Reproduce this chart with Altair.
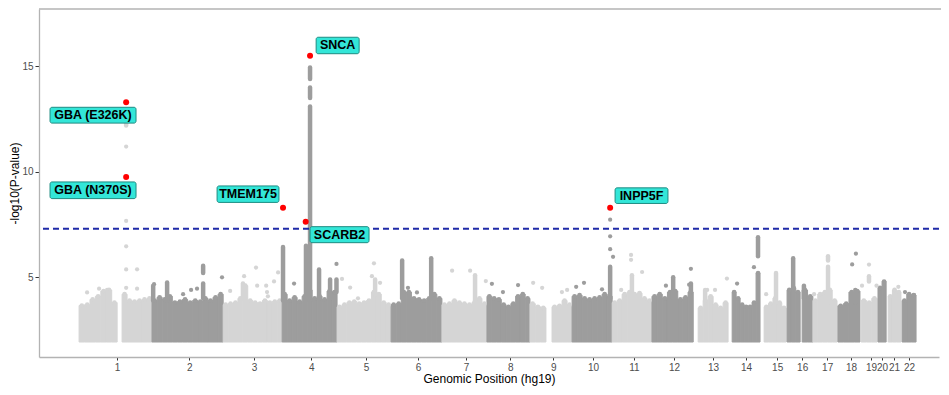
import altair as alt
import pandas as pd

# ---------------- data ----------------
chrom_names = [str(i) for i in range(1, 23)]
# tick (label) positions along the cumulative genomic axis (approx. Mb)
tick_pos = [131, 379, 602, 799, 988, 1167, 1332, 1484, 1632, 1769, 1910,
            2048, 2182, 2296, 2403, 2489, 2575, 2657, 2726, 2764, 2805, 2857]

# dense SNP cloud: chromosome arm segments and the cloud top in equal bins
dense_bottom = 1.93
seg_chr = [1, 1, 2, 3, 4, 5, 6, 7, 8, 9, 9, 10, 11, 12, 13, 14, 15, 16, 16,
           17, 18, 19, 20, 21, 22]
seg_start = [0, 148, 251, 496, 699, 888, 1074, 1249, 1404, 1552, 1628, 1697,
             1835, 1972, 2131, 2248, 2358, 2437, 2489, 2526, 2612, 2692, 2750,
             2785, 2833]
seg_end = [131, 251, 496, 699, 888, 1074, 1249, 1404, 1552, 1607, 1697, 1835,
           1972, 2114, 2234, 2344, 2434, 2482, 2526, 2609, 2688, 2747, 2778,
           2829, 2881]
seg_tops = [
    [3.66, 3.7, 3.95, 4.1, 4.35, 4.4, 3.8],
    [4.2, 3.9, 3.85, 3.9, 3.95, 4.0],
    [3.9, 4.05, 3.95, 4.1, 3.8, 3.85, 3.95, 3.8, 3.9, 3.85, 4.0, 3.9, 4.05, 4.2],
    [3.7, 3.75, 3.8, 4.0, 4.6, 3.9, 3.8, 3.75, 3.9, 3.8, 3.85, 3.9],
    [4.2, 3.9, 4.05, 3.85, 4.1, 4.4, 4.0, 4.1, 3.95, 4.35, 4.3],
    [3.6, 3.7, 3.8, 3.85, 3.75, 3.8, 3.9, 4.3, 4.2, 3.8, 3.7],
    [3.7, 3.75, 4.3, 4.3, 4.0, 3.95, 3.9, 4.0, 4.2, 4.0],
    [3.7, 3.75, 3.9, 3.8, 3.75, 3.7, 3.8, 4.0, 3.75],
    [4.1, 4.0, 3.95, 3.7, 3.6, 3.75, 4.1, 4.2, 4.0],
    [3.75, 3.6, 3.55],
    [3.6, 3.65, 3.9, 3.7],
    [4.1, 4.15, 4.0, 3.95, 4.0, 4.05, 4.2, 4.1],
    [3.8, 3.9, 4.2, 4.3, 4.2, 4.25, 4.0, 3.9],
    [4.1, 4.2, 4.0, 4.3, 4.35, 3.95, 4.05, 4.3],
    [3.55, 3.9, 4.1, 3.7, 3.55, 3.8],
    [4.3, 4.0, 3.7, 3.6, 3.6, 3.8, 5.2],
    [3.6, 3.75, 4.0, 3.8, 3.55],
    [4.4, 4.5, 4.3],
    [4.4, 4.1],
    [3.9, 4.2, 4.3, 4.4, 3.9],
    [3.65, 3.75, 4.3, 4.35],
    [3.9, 3.8, 4.0],
    [4.5, 4.8],
    [4.1, 4.4, 4.3],
    [3.9, 4.2, 4.15],
]

# vertical runs of stacked SNPs (peaks)
col_chr = [1, 2, 2, 2, 2, 3, 4, 4, 4, 4, 4, 4, 4, 4, 5, 6, 6, 7, 10, 11, 12,
           12, 13, 14, 15, 16, 16, 17, 17, 18, 19]
col_pos = [162, 255, 303, 427, 427, 564, 702, 781, 795, 795, 795, 826, 864,
           886, 1019, 1112, 1212, 1363, 1828, 1903, 2045, 2106, 2155, 2337,
           2399, 2458, 2495, 2578, 2578, 2672, 2719]
col_lo = [12.2, 3.9, 3.9, 4.0, 5.2, 4.0, 3.9, 3.9, 3.9, 13.5, 14.4, 4.0, 4.0,
          4.3, 4.2, 4.0, 4.0, 3.8, 4.0, 4.0, 4.0, 4.3, 3.9, 6.0, 3.8, 4.4,
          4.0, 3.8, 5.8, 3.8, 4.8]
col_hi = [12.5, 4.6, 4.75, 4.7, 5.55, 4.7, 6.43, 6.5, 13.1, 14.0, 14.95, 5.37,
          4.9, 4.9, 4.9, 5.8, 5.9, 5.1, 5.5, 5.1, 5.0, 4.7, 4.4, 6.9, 5.2,
          5.9, 4.6, 5.5, 6.0, 4.4, 5.05]

# isolated SNPs above the cloud
pt_chr = [1, 1, 1, 1, 1, 1, 1, 1, 1, 1, 1,
          2, 2, 2, 2, 2,
          3, 3, 3, 3, 3, 3, 3, 3, 3,
          4, 4,
          5, 5, 5, 5, 5, 5,
          6, 6,
          7, 7, 7,
          8, 8, 8,
          9, 9, 9, 9,
          10, 10, 10, 10, 10, 10, 10,
          11, 11, 11, 11,
          12, 12, 12,
          13, 13, 13,
          14, 14,
          15, 17, 18, 18, 19, 19, 19, 21, 22, 22]
pt_pos = [27.5, 68.8, 96.4, 199.6, 199.6, 158, 162, 162, 162, 162, 162,
          258, 358, 385.5, 406, 492,
          520, 568, 609, 613, 644, 650, 671, 685, 647,
          886, 740,
          933, 905, 1008, 1015, 1036, 960,
          1163, 1132,
          1284, 1346, 1400,
          1421, 1511, 1459,
          1563, 1594, 1662, 1680,
          1711, 1738, 1800, 1828, 1828, 1828, 1838,
          1900, 1900, 1938, 1866,
          2020, 2106, 2100,
          2230, 2162, 2189,
          2323, 2265,
          2365, 2530, 2674, 2661, 2695, 2719, 2745, 2820, 2843, 2874]
pt_val = [4.28, 4.46, 4.4, 5.38, 4.46, 4.12, 11.2, 7.67, 6.47, 5.37, 4.5,
          4.67, 4.2, 4.4, 4.46, 5.0,
          4.35, 5.05, 5.46, 4.6, 4.6, 4.1, 4.8, 5.23, 4.3,
          5.63, 4.7,
          4.51, 4.92, 5.05, 5.66, 4.74, 4.0,
          4.28, 4.5,
          5.31, 5.31, 4.82,
          4.69, 4.63, 4.3,
          4.74, 4.5, 4.3, 4.4,
          4.55, 4.74, 4.43, 7.73, 6.94, 6.33, 5.97,
          6.06, 5.83, 5.25, 4.4,
          4.6, 5.4, 4.65,
          4.94, 4.4, 4.4,
          5.48, 4.7,
          4.2, 4.2, 6.12, 5.61, 4.6, 5.6, 4.6, 4.55, 4.3, 4.15]

# highlighted hits
hit_gene = ["GBA (E326K)", "GBA (N370S)", "TMEM175", "SCARB2", "SNCA", "INPP5F"]
hit_pos = [162, 162, 702, 780, 795, 1828]
hit_val = [13.3, 9.75, 8.3, 7.63, 15.5, 8.3]

# label boxes (axis units)
lab_x1 = [-100, -100, 475, 795, 816, 1845]
lab_x2 = [196, 196, 688, 998, 964, 2027]
lab_y1 = [12.31, 8.73, 8.55, 6.64, 15.6, 8.50]
lab_y2 = [13.06, 9.52, 9.33, 7.40, 16.38, 9.24]

gw_threshold = 7.3
x_domain = [-138, 2960]
y_domain = [1.22, 17.72]

LIGHT = "#d5d5d5"
DARK = "#9d9d9d"
FRAME = "#b3b3b3"

# ---------------- build tables ----------------
def shade(c):
    return "dark" if c % 2 == 0 else "light"

dense_rows = []
for c, s, e, tops in zip(seg_chr, seg_start, seg_end, seg_tops):
    w = (e - s) / len(tops)
    for i, t in enumerate(tops):
        dense_rows.append({"x": s + i * w, "x2": s + (i + 1) * w,
                           "xm": s + (i + 0.5) * w,
                           "bottom": dense_bottom, "top": t, "shade": shade(c)})
dense_df = pd.DataFrame(dense_rows)

col_df = pd.DataFrame({"pos": col_pos, "lo": col_lo, "hi": col_hi,
                       "shade": [shade(c) for c in col_chr]})
pt_df = pd.DataFrame({"pos": pt_pos, "val": pt_val,
                      "shade": [shade(c) for c in pt_chr]})
hit_df = pd.DataFrame({"gene": hit_gene, "pos": hit_pos, "val": hit_val})
lab_df = pd.DataFrame({"gene": hit_gene, "x1": lab_x1, "x2": lab_x2,
                       "y1": lab_y1, "y2": lab_y2})
lab_df["xc"] = (lab_df["x1"] + lab_df["x2"]) / 2
lab_df["yc"] = (lab_df["y1"] + lab_df["y2"]) / 2

xs = alt.Scale(domain=x_domain, nice=False, zero=False)
ys = alt.Scale(domain=y_domain, nice=False, zero=False)
color_scale = alt.Scale(domain=["light", "dark"], range=[LIGHT, DARK])

label_expr = ("[" + ",".join(f"'{n}'" for n in chrom_names) + "][indexof(["
              + ",".join(str(p) for p in tick_pos) + "], datum.value)]")

X_TITLE = "Genomic Position (hg19)"
Y_TITLE = "-log10(P-value)"
x_axis = alt.Axis(values=tick_pos, labelExpr=label_expr,
                  title=X_TITLE, grid=False,
                  domainColor=FRAME, domainWidth=1.3, tickColor="#333333",
                  tickSize=3, labelPadding=2, titlePadding=1,
                  labelFontSize=10, titleFontSize=12, labelColor="#4d4d4d",
                  titleColor="#000000", titleFontWeight="normal",
                  labelOverlap=False, labelFlush=False)
y_axis = alt.Axis(values=[5, 10, 15], title=Y_TITLE, grid=False,
                  domainColor=FRAME, domainWidth=1.3, tickColor="#333333",
                  tickSize=4, labelPadding=2, titlePadding=0,
                  labelFontSize=10, titleFontSize=12, labelColor="#4d4d4d",
                  titleColor="#000000", titleFontWeight="normal")


def X(field):
    return alt.X(field, scale=xs, axis=x_axis, title=X_TITLE)


def Y(field):
    return alt.Y(field, scale=ys, axis=y_axis, title=Y_TITLE)


shade_color = alt.Color("shade:N", scale=color_scale, legend=None)

dense = alt.Chart(dense_df).mark_rect(strokeWidth=1).encode(
    x=X("x:Q"), x2="x2:Q",
    y=Y("bottom:Q"), y2="top:Q",
    color=shade_color,
    stroke=alt.Stroke("shade:N", scale=color_scale, legend=None),
)

# rounded (point-like) tops of the dense cloud
scallops = alt.Chart(dense_df).mark_circle(size=22, opacity=1).encode(
    x=X("xm:Q"), y=Y("top:Q"), color=shade_color,
)

cols = alt.Chart(col_df).mark_rule(strokeWidth=4.5, strokeCap="round").encode(
    x=X("pos:Q"),
    y=Y("lo:Q"), y2="hi:Q",
    color=shade_color,
)

pts = alt.Chart(pt_df).mark_circle(size=18, opacity=1).encode(
    x=X("pos:Q"),
    y=Y("val:Q"),
    color=shade_color,
)

thr = alt.Chart(pd.DataFrame({"t": [gw_threshold]})).mark_rule(
    color="#1f2aa8", strokeWidth=1.8, strokeDash=[6, 4]).encode(
    y=Y("t:Q"))

hits = alt.Chart(hit_df).mark_circle(size=36, opacity=1, color="#ff0000").encode(
    x=X("pos:Q"),
    y=Y("val:Q"),
)

boxes = alt.Chart(lab_df).mark_rect(fill="#33e6d8", stroke="#1e8c82",
                                    strokeWidth=1, cornerRadius=2).encode(
    x=X("x1:Q"), x2="x2:Q",
    y=Y("y1:Q"), y2="y2:Q",
)

texts = alt.Chart(lab_df).mark_text(fontWeight="bold", fontSize=12.5,
                                    color="#000000", font="Liberation Sans").encode(
    x=X("xc:Q"),
    y=Y("yc:Q"),
    text="gene:N",
)

top_frame = alt.Chart(pd.DataFrame({"d": [0]})).mark_rule(
    color=FRAME, strokeWidth=1.5).encode(
    x=alt.value(0), x2=alt.value(902), y=alt.value(0))

chart = alt.layer(dense, scallops, cols, pts, thr, hits, boxes, texts,
                  top_frame).properties(
    width=900, height=348,
    autosize=alt.AutoSizeParams(type="none"),
    padding={"left": 31, "top": 1, "right": 2, "bottom": 30},
).configure(font="Liberation Sans").configure_view(stroke=None)

chart.save("out.html", embed_options={"renderer": "svg", "actions": False})
